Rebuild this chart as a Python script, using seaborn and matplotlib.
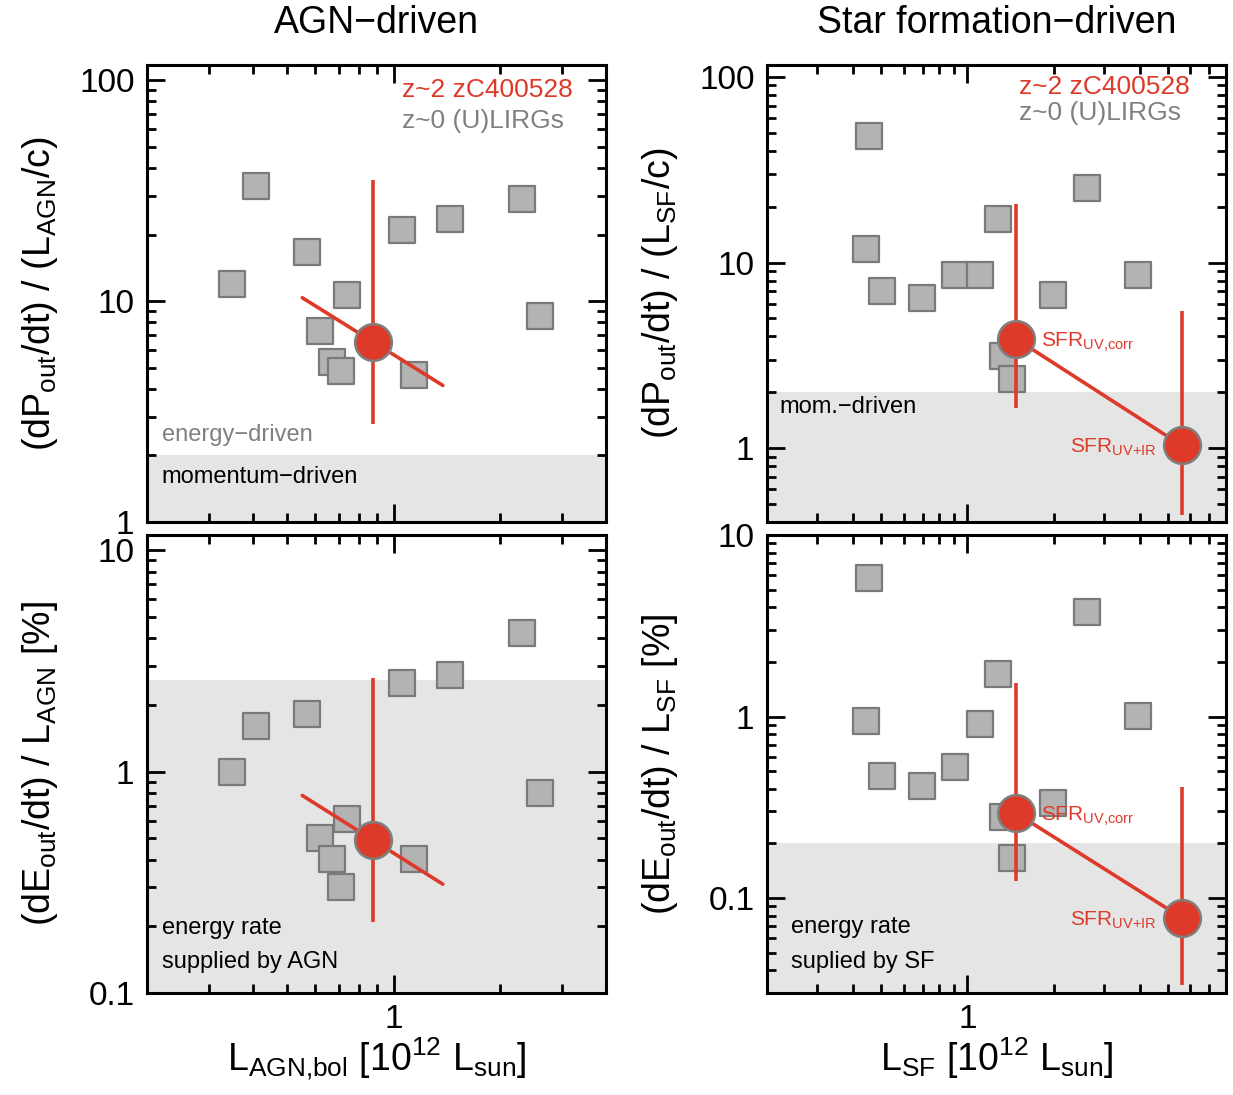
import numpy as np
import matplotlib
matplotlib.use("Agg")
import matplotlib.pyplot as plt
import seaborn as sns
from matplotlib.ticker import LogLocator, FuncFormatter, NullFormatter

sns.set_style("ticks")
plt.rcParams['font.family'] = ['Liberation Sans', 'DejaVu Sans']
plt.rcParams['mathtext.fontset'] = 'custom'
plt.rcParams['mathtext.rm'] = 'Liberation Sans'
plt.rcParams['mathtext.it'] = 'Liberation Sans'
plt.rcParams['mathtext.default'] = 'rm'
plt.rcParams['text.color'] = 'black'
plt.rcParams['axes.labelcolor'] = 'black'
plt.rcParams['xtick.color'] = 'black'
plt.rcParams['ytick.color'] = 'black'

# ---------------- data ----------------
# z~0 (U)LIRGs
agn_L = [0.408, 0.568, 0.349, 0.738, 1.058, 1.447, 2.31, 2.60, 0.617, 0.669, 0.709, 1.139]
agn_mom = [33.1, 16.7, 11.9, 10.6, 20.9, 23.5, 29.0, 8.55, 7.31, 5.30, 4.82, 4.61]
agn_en = [1.60, 1.82, 1.00, 0.608, 2.50, 2.72, 4.22, 0.80, 0.503, 0.401, 0.302, 0.404]

sf_L = [0.455, 0.443, 0.504, 0.694, 0.905, 1.104, 1.279, 1.992, 2.61, 3.95, 1.332, 1.432]
sf_mom = [48.3, 11.9, 7.02, 6.47, 8.60, 8.60, 17.2, 6.71, 25.3, 8.60, 3.15, 2.35]
sf_en = [5.76, 0.947, 0.470, 0.416, 0.524, 0.913, 1.718, 0.335, 3.75, 1.009, 0.280, 0.166]

# z~2 zC400528, AGN
zc_agn_L = [0.874]
zc_agn_mom = [6.53]
zc_agn_mom_lo = [2.78]
zc_agn_mom_hi = [35.2]
zc_agn_en = [0.493]
zc_agn_en_lo = [0.21]
zc_agn_en_hi = [2.64]
zc_agn_trend_L = [0.551, 1.379]
zc_agn_trend_mom = [10.35, 4.15]
zc_agn_trend_en = [0.78, 0.31]

# z~2 zC400528, star formation (SFR_UV,corr ; SFR_UV+IR)
zc_sf_L = [1.484, 5.60]
zc_sf_mom = [3.87, 1.034]
zc_sf_mom_lo = [1.64, 0.439]
zc_sf_mom_hi = [20.6, 5.48]
zc_sf_en = [0.293, 0.078]
zc_sf_en_lo = [0.124, 0.0331]
zc_sf_en_hi = [1.535, 0.409]
sfr_labels = [r'SFR$_{\mathrm{UV{,}corr}}$', r'SFR$_{\mathrm{UV{+}IR}}$']

# shaded regimes
agn_mom_band = (1.0, 2.0)
agn_en_band = (0.1, 2.6)
sf_mom_band = (0.4, 2.0)
sf_en_band = (0.03, 0.2)

RED = '#dd3a29'
GRAY_TXT = '#808080'
SQ_FACE = '#b3b3b3'
SQ_EDGE = '#7a7a7a'
SHADE = '#e5e5e5'

fig = plt.figure(figsize=(12.33, 10.95), dpi=100)
W, H = 1233, 1095
def axpos(l, t, r, b):
    return [l / W, 1 - b / H, (r - l) / W, (b - t) / H]

ax_tl = fig.add_axes(axpos(147, 65, 606, 522))
ax_bl = fig.add_axes(axpos(147, 535, 606, 993))
ax_tr = fig.add_axes(axpos(767, 65, 1226, 522))
ax_br = fig.add_axes(axpos(767, 535, 1226, 993))

fmt = FuncFormatter(lambda v, p: '%g' % v)

def style(ax, xlim, ylim, xlabels):
    ax.set_xscale('log')
    ax.set_yscale('log')
    ax.set_xlim(*xlim)
    ax.set_ylim(*ylim)
    for axis in (ax.xaxis, ax.yaxis):
        axis.set_major_locator(LogLocator(base=10, numticks=20))
        axis.set_minor_locator(LogLocator(base=10, subs=np.arange(2, 10), numticks=20))
        axis.set_major_formatter(fmt)
        axis.set_minor_formatter(NullFormatter())
    ax.tick_params(which='both', direction='in', top=True, right=True, width=2.0,
                   color='black', labelcolor='black')
    ax.tick_params(which='major', length=13)
    ax.tick_params(which='minor', length=6.5)
    ax.tick_params(axis='y', which='major', labelsize=24, pad=9)
    ax.tick_params(axis='x', which='major', labelsize=24, pad=8, labelbottom=xlabels)
    for s in ax.spines.values():
        s.set_linewidth(2.2)
        s.set_color('black')
        s.set_visible(True)
    ax.grid(False)

def squares(ax, x, y):
    sns.scatterplot(x=x, y=y, marker='s', s=330, color=SQ_FACE, edgecolor=SQ_EDGE,
                    linewidth=1.6, ax=ax, zorder=3, legend=False)

def red_points(ax, x, y):
    sns.scatterplot(x=x, y=y, marker='o', s=700, color=RED, edgecolor='#7f7f7f',
                    linewidth=1.8, ax=ax, zorder=5, legend=False)

# ---- top-left: AGN momentum ----
ax = ax_tl
ax.axhspan(*agn_mom_band, color=SHADE, lw=0, zorder=0)
squares(ax, agn_L, agn_mom)
ax.vlines(zc_agn_L, zc_agn_mom_lo, zc_agn_mom_hi, color=RED, lw=2.6, zorder=4)
sns.lineplot(x=zc_agn_trend_L, y=zc_agn_trend_mom, color=RED, lw=2.6, ax=ax, zorder=4, sort=False)
red_points(ax, zc_agn_L, zc_agn_mom)
style(ax, (0.2, 4.0), (1.0, 117), False)
ax.set_title('AGN\u2212driven', fontsize=27, pad=23, color='black')
ax.text(0.556, 0.945, 'z~2 zC400528', color=RED, fontsize=19, transform=ax.transAxes, va='center', ha='left')
ax.text(0.556, 0.877, 'z~0 (U)LIRGs', color=GRAY_TXT, fontsize=19, transform=ax.transAxes, va='center', ha='left')
ax.text(0.032, 0.19, 'energy\u2212driven', color=GRAY_TXT, fontsize=17, transform=ax.transAxes, va='center')
ax.text(0.032, 0.099, 'momentum\u2212driven', color='black', fontsize=17, transform=ax.transAxes, va='center')
ax.set_ylabel(r'(dP$_{\mathrm{out}}$/dt) / (L$_{\mathrm{AGN}}$/c)', fontsize=27)
ax.yaxis.set_label_coords(-0.19, 0.5)
ax.set_xlabel('')

# ---- bottom-left: AGN energy ----
ax = ax_bl
ax.axhspan(*agn_en_band, color=SHADE, lw=0, zorder=0)
squares(ax, agn_L, agn_en)
ax.vlines(zc_agn_L, zc_agn_en_lo, zc_agn_en_hi, color=RED, lw=2.6, zorder=4)
sns.lineplot(x=zc_agn_trend_L, y=zc_agn_trend_en, color=RED, lw=2.6, ax=ax, zorder=4, sort=False)
red_points(ax, zc_agn_L, zc_agn_en)
style(ax, (0.2, 4.0), (0.1, 11.7), True)
ax.text(0.032, 0.142, 'energy rate', color='black', fontsize=17, transform=ax.transAxes, va='center')
ax.text(0.032, 0.068, 'supplied by AGN', color='black', fontsize=17, transform=ax.transAxes, va='center')
ax.set_ylabel(r'(dE$_{\mathrm{out}}$/dt) / L$_{\mathrm{AGN}}$ [%]', fontsize=27)
ax.yaxis.set_label_coords(-0.19, 0.5)
ax.set_xlabel(r'L$_{\mathrm{AGN{,}bol}}$ [10$^{12}$ L$_{\mathrm{sun}}$]', fontsize=27, labelpad=0)

# ---- top-right: SF momentum ----
ax = ax_tr
ax.axhspan(*sf_mom_band, color=SHADE, lw=0, zorder=0)
squares(ax, sf_L, sf_mom)
ax.vlines(zc_sf_L, zc_sf_mom_lo, zc_sf_mom_hi, color=RED, lw=2.6, zorder=4)
sns.lineplot(x=zc_sf_L, y=zc_sf_mom, color=RED, lw=2.6, ax=ax, zorder=4, sort=False)
red_points(ax, zc_sf_L, zc_sf_mom)
style(ax, (0.2, 8.0), (0.4, 116), False)
ax.set_title('Star formation\u2212driven', fontsize=27, pad=23, color='black')
ax.text(0.55, 0.951, 'z~2 zC400528', color=RED, fontsize=19, transform=ax.transAxes, va='center', ha='left')
ax.text(0.55, 0.896, 'z~0 (U)LIRGs', color=GRAY_TXT, fontsize=19, transform=ax.transAxes, va='center', ha='left')
ax.text(0.028, 0.252, 'mom.\u2212driven', color='black', fontsize=17, transform=ax.transAxes, va='center')
ax.set_ylabel(r'(dP$_{\mathrm{out}}$/dt) / (L$_{\mathrm{SF}}$/c)', fontsize=27)
ax.yaxis.set_label_coords(-0.19, 0.5)
ax.set_xlabel('')

# ---- bottom-right: SF energy ----
ax = ax_br
ax.axhspan(*sf_en_band, color=SHADE, lw=0, zorder=0)
squares(ax, sf_L, sf_en)
ax.vlines(zc_sf_L, zc_sf_en_lo, zc_sf_en_hi, color=RED, lw=2.6, zorder=4)
sns.lineplot(x=zc_sf_L, y=zc_sf_en, color=RED, lw=2.6, ax=ax, zorder=4, sort=False)
red_points(ax, zc_sf_L, zc_sf_en)
style(ax, (0.2, 8.0), (0.03, 10.0), True)
ax.text(0.052, 0.144, 'energy rate', color='black', fontsize=17, transform=ax.transAxes, va='center')
ax.text(0.052, 0.068, 'suplied by SF', color='black', fontsize=17, transform=ax.transAxes, va='center')
ax.set_ylabel(r'(dE$_{\mathrm{out}}$/dt) / L$_{\mathrm{SF}}$ [%]', fontsize=27)
ax.yaxis.set_label_coords(-0.19, 0.5)
ax.set_xlabel(r'L$_{\mathrm{SF}}$ [10$^{12}$ L$_{\mathrm{sun}}$]', fontsize=27, labelpad=0)

# SFR labels next to red points
for ax, yv in ((ax_tr, zc_sf_mom), (ax_br, zc_sf_en)):
    ax.annotate(sfr_labels[0], (zc_sf_L[0], yv[0]), xytext=(18, -5.5), textcoords='offset points',
                color=RED, fontsize=15, ha='left', va='baseline', zorder=6)
    ax.annotate(sfr_labels[1], (zc_sf_L[1], yv[1]), xytext=(-18, -5.5), textcoords='offset points',
                color=RED, fontsize=15, ha='right', va='baseline', zorder=6)

fig.savefig('out.png', dpi=100)
